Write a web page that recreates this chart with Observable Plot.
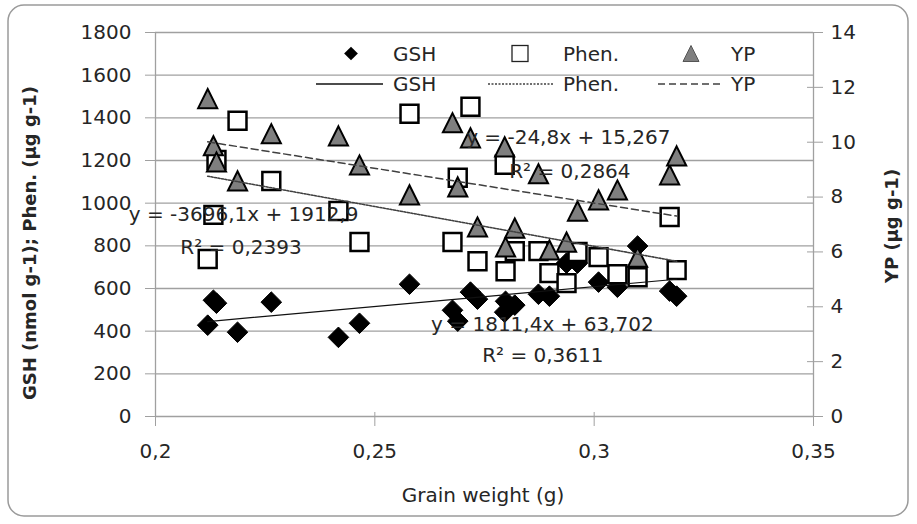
<!DOCTYPE html>
<html><head><meta charset="utf-8">
<script src="https://cdn.jsdelivr.net/npm/d3@7"></script>
<script src="https://cdn.jsdelivr.net/npm/@observablehq/plot@0.6"></script>
<style>body{margin:0;background:#fff} svg{display:block}</style>
</head><body><div id="chart"></div>
<script>
// ---- data ----
const grainWeight = [0.2119,0.2132,0.2139,0.2187,0.2264,0.2417,0.2465,0.2579,0.2677,0.2689,0.2718,0.2734,0.2796,0.2798,0.2819,0.2873,0.2898,0.2937,0.2962,0.3010,0.3053,0.3099,0.3172,0.3188];
const gsh  = [428,545,531,395,536,371,437,620,498,447,583,550,489,540,522,573,564,719,719,630,606,799,588,564];
const phen = [738,945,1203,1386,1104,963,818,1419,818,1119,1452,728,1180,681,775,775,672,625,771,747,667,653,935,686];
const yp   = [11.59,9.87,9.28,8.59,10.31,10.23,9.17,8.08,10.71,8.37,10.16,6.91,9.83,6.18,6.87,8.85,6.07,6.36,7.49,7.90,8.26,5.81,8.81,9.50];
const xTicks = [0.2,0.25,0.3,0.35];
const leftTicks = [0,200,400,600,800,1000,1200,1400,1600,1800];
const rightTicks = [0,2,4,6,8,10,12,14];
const seriesNames = ["GSH","Phen.","YP"];
const equations = ["y = 1811,4x + 63,702","y = -3696,1x + 1912,9","y = -24,8x + 15,267"];
const r2Labels = ["R² = 0,3611","R² = 0,2393","R² = 0,2864"];
const xTitle = "Grain weight (g)";
const yLeftTitle = "GSH (nmol g-1); Phen. (µg g-1)";
const yRightTitle = "YP (µg g-1)";

const K = 1800 / 14; // right axis -> left axis units
const rows = grainWeight.map((x, i) => ({x, gsh: gsh[i], phen: phen[i], ypL: yp[i] * K}));

const tri = {draw(ctx, size) { const s = Math.sqrt(size); ctx.moveTo(0, -s); ctx.lineTo(s, s); ctx.lineTo(-s, s); ctx.closePath(); }};

const annMid = [
  {t: equations[1], x: 0.2201, y: 945},
  {t: r2Labels[1],  x: 0.2195, y: 794},
  {t: equations[0], x: 0.2882, y: 432},
  {t: r2Labels[0],  x: 0.2883, y: 284}
];
const annEnd = [
  {t: equations[2], x: 0.3174, y: 1307},
  {t: r2Labels[2],  x: 0.3083, y: 1149}
];

const font = "DejaVu Sans";
const grid = "#a0a0a0";
const tcol = "#262626";
const chart = Plot.plot({
  width: 917, height: 524,
  marginLeft: 155, marginRight: 104, marginTop: 32, marginBottom: 108,
  style: {fontFamily: font, fontSize: "20px", color: tcol, background: "white"},
  x: {domain: [0.2, 0.35]},
  y: {domain: [0, 1800]},
  marks: [
    Plot.gridY(leftTicks, {stroke: grid, strokeOpacity: 1, strokeWidth: 1.3}),
    Plot.ruleX([0.2, 0.35], {stroke: grid, strokeWidth: 1.3}),
    Plot.axisY({ticks: leftTicks, tickSize: 10, tickPadding: 14, tickFormat: d => String(d), label: null, stroke: grid}),
    Plot.axisY(rightTicks.map(v => v * K), {anchor: "right", tickSize: 9, tickPadding: 8, tickFormat: d => String(Math.round(d / K)), label: null, stroke: grid}),
    Plot.axisY(rightTicks.map(v => v * K), {anchor: "right", tickSize: -7, tickFormat: () => "", label: null, stroke: grid}),
    Plot.axisX({ticks: xTicks, tickSize: 10, tickPadding: 17, tickFormat: d => String(d).replace(".", ","), label: null, stroke: grid}),
    Plot.axisX({ticks: xTicks, tickSize: -4, tickFormat: () => "", label: null, stroke: grid}),
    Plot.dot(rows, {x: "x", y: "gsh", symbol: "diamond2", r: 9.3, fill: "black", stroke: "black", strokeWidth: 1}),
    Plot.dot(rows, {x: "x", y: "phen", symbol: "square", r: 10.1, fill: "white", stroke: "black", strokeWidth: 2.5}),
    Plot.dot(rows, {x: "x", y: "ypL", symbol: tri, r: 5.4, fill: "#7f7f7f", stroke: "black", strokeWidth: 2}),
    Plot.linearRegressionY(rows, {x: "x", y: "gsh", stroke: "#111", strokeWidth: 1.2, ci: 0}),
    Plot.linearRegressionY(rows, {x: "x", y: "phen", stroke: "#404040", strokeWidth: 1.6, strokeDasharray: "2,1.5", ci: 0}),
    Plot.linearRegressionY(rows, {x: "x", y: "ypL", stroke: "#404040", strokeWidth: 1.5, strokeDasharray: "7,4", ci: 0}),
    Plot.text(annMid, {x: "x", y: "y", text: "t", textAnchor: "middle", fill: tcol, fontSize: 20}),
    Plot.text(annEnd, {x: "x", y: "y", text: "t", textAnchor: "end", fill: tcol, fontSize: 20})
  ]
});
document.getElementById("chart").append(chart);

const svg = d3.select(chart);
// border
svg.append("rect").attr("x", 8).attr("y", 5).attr("width", 900).attr("height", 511)
  .attr("rx", 16).attr("fill", "none").attr("stroke", "#9a9a9a").attr("stroke-width", 1.5);
// titles
svg.append("text").text(xTitle).attr("x", 483).attr("y", 495).attr("dy", "0.35em")
  .attr("text-anchor", "middle").attr("font-family", font).attr("font-size", 20).attr("fill", tcol);
svg.append("text").text(yLeftTitle).attr("transform", "translate(30,243) rotate(-90)").attr("dy", "0.35em")
  .attr("text-anchor", "middle").attr("font-family", font).attr("font-size", 18).attr("font-weight", "bold").attr("fill", tcol);
svg.append("text").text(yRightTitle).attr("transform", "translate(892,226) rotate(-90)").attr("dy", "0.35em")
  .attr("text-anchor", "middle").attr("font-family", font).attr("font-size", 18).attr("font-weight", "bold").attr("fill", tcol);
// legend
const lg = svg.append("g").attr("font-family", font).attr("font-size", 20).attr("fill", tcol).attr("text-anchor", "start");
const row1 = 53.5, row2 = 84;
const symX = [351, 520, 691], txtX = [393, 563, 731], lineX = [[316, 383], [488, 553], [658, 722]];
lg.append("path").attr("d", d3.symbol(d3.symbolDiamond2, 120)()).attr("transform", `translate(${symX[0]},${row1})`).attr("fill", "black");
lg.append("rect").attr("x", symX[1] - 8).attr("y", row1 - 8).attr("width", 16).attr("height", 16).attr("fill", "white").attr("stroke", "#222").attr("stroke-width", 1.3);
lg.append("path").attr("d", "M0,-8L8,8L-8,8Z").attr("transform", `translate(${symX[2]},${row1})`).attr("fill", "#7f7f7f").attr("stroke", "#555").attr("stroke-width", 1);
const dashes = [null, "2,1.5", "7,4"];
seriesNames.forEach((n, i) => {
  lg.append("text").text(n).attr("x", txtX[i]).attr("y", row1).attr("dy", "0.35em");
  lg.append("text").text(n).attr("x", txtX[i]).attr("y", row2).attr("dy", "0.35em");
  lg.append("line").attr("x1", lineX[i][0]).attr("x2", lineX[i][1]).attr("y1", row2).attr("y2", row2)
    .attr("stroke", i === 0 ? "#111" : "#404040").attr("stroke-width", i === 1 ? 1.6 : 1.4)
    .attr("stroke-dasharray", dashes[i]);
});
</script></body></html>
